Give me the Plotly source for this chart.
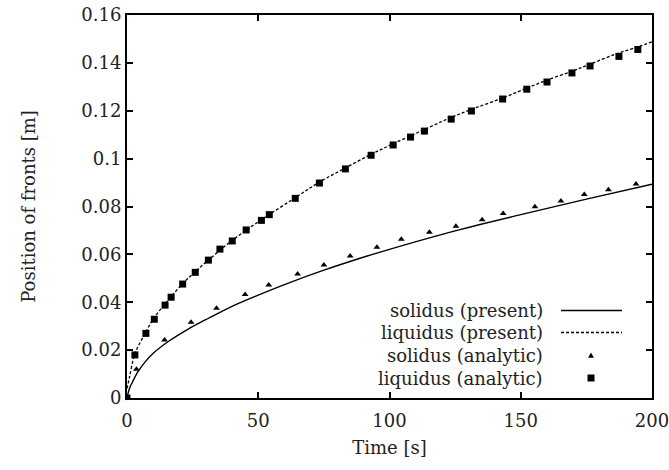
import plotly.graph_objects as go

# ---- data ----
solid_t = [0, 1, 2, 4, 7, 10, 16, 23, 30, 40, 50, 60, 75, 90, 100, 125, 150, 175, 200]
solid_y = [0, 0.0042, 0.0065, 0.0107, 0.0152, 0.0187, 0.0238, 0.0286, 0.0327, 0.0383,
           0.0430, 0.0474, 0.0534, 0.0588, 0.0621, 0.0698, 0.0766, 0.0831, 0.0893]

liq_t = [0, 1, 3, 7, 10, 15, 21, 26, 31, 40, 51, 64, 73, 83, 93, 101, 113, 123, 131,
         143, 152, 160, 170, 176, 187, 195, 200]
liq_y = [0.004, 0.009, 0.0185, 0.0272, 0.0330, 0.0400, 0.0475, 0.0528, 0.0576, 0.0658,
         0.0743, 0.0836, 0.0900, 0.0960, 0.1018, 0.1060, 0.1120, 0.1170, 0.1205, 0.1253,
         0.1293, 0.1328, 0.1367, 0.1393, 0.1440, 0.1468, 0.1488]

sol_an_t = [0, 3.6, 14.3, 24.4, 34.1, 45, 54, 65, 75, 85, 95.2, 104.5, 115.2, 125.3,
            135.3, 143.3, 155.4, 165.3, 174.2, 183.4, 193.9]
sol_an_y = [0, 0.0120, 0.0242, 0.0316, 0.0375, 0.0432, 0.0472, 0.0518, 0.0556, 0.0593,
            0.0630, 0.0663, 0.0692, 0.0718, 0.0745, 0.0771, 0.0799, 0.0823, 0.0850,
            0.0870, 0.0894]

liq_an_t = [0, 3.0, 7.2, 10.4, 14.5, 16.8, 21.2, 26.0, 31.0, 35.4, 40.1, 45.4, 51.2, 54.2,
            64.1, 73.3, 83.2, 93.0, 101.4, 108.0, 113.3, 123.5, 131.2, 143.1, 152.3,
            160.0, 169.5, 176.4, 187.4, 194.6]
liq_an_y = [0, 0.0180, 0.0270, 0.0329, 0.0388, 0.0421, 0.0476, 0.0525, 0.0576, 0.0622,
            0.0656, 0.0702, 0.0742, 0.0766, 0.0834, 0.0898, 0.0957, 0.1014, 0.1057,
            0.1090, 0.1115, 0.1165, 0.1199, 0.1249, 0.1290, 0.1320, 0.1358, 0.1387,
            0.1427, 0.1456]

legend_labels = ["solidus (present)", "liquidus (present)",
                 "solidus (analytic)", "liquidus (analytic)"]

x_ticks = [0, 50, 100, 150, 200]
y_ticks = [0, 0.02, 0.04, 0.06, 0.08, 0.1, 0.12, 0.14, 0.16]
y_ticktext = ["0", "0.02", "0.04", "0.06", "0.08", "0.1", "0.12", "0.14", "0.16"]

FONT = "DejaVu Serif"
TXT = "#222222"
W, H = 669, 470
# plot area in screen pixels: left 127, right 652, top 15, bottom 398
L, R, T, B = 127, W - 652, 15, H - 398

fig = go.Figure()
fig.add_trace(go.Scatter(x=solid_t, y=solid_y, mode="lines", line=dict(color="black", width=1.4),
                         line_shape="spline", showlegend=False))
fig.add_trace(go.Scatter(x=liq_t, y=liq_y, mode="lines",
                         line=dict(color="black", width=1.3, dash="3px,2px"),
                         line_shape="spline", showlegend=False))
fig.add_trace(go.Scatter(x=sol_an_t, y=sol_an_y, mode="markers",
                         marker=dict(symbol="triangle-up", size=6, color="black"), showlegend=False))
fig.add_trace(go.Scatter(x=liq_an_t, y=liq_an_y, mode="markers",
                         marker=dict(symbol="square", size=7, color="black"), showlegend=False))

axis_common = dict(showgrid=False, zeroline=False, showline=True, linecolor="black",
                   linewidth=2, mirror="allticks", ticks="inside", ticklen=6,
                   tickwidth=1.5, tickcolor="black", automargin=False,
                   ticklabeloverflow="allow",
                   tickfont=dict(family=FONT, size=18, color=TXT))

fig.update_xaxes(range=[0, 200], tickvals=x_ticks, ticklabelstandoff=5,
                 title=dict(text="Time [s]", font=dict(family=FONT, size=18, color=TXT), standoff=12),
                 **axis_common)
fig.update_yaxes(range=[0, 0.16], tickvals=y_ticks, ticktext=y_ticktext,
                 title=dict(text="Position of fronts [m]", font=dict(family=FONT, size=18, color=TXT), standoff=41),
                 **axis_common)

# custom legend (text right-aligned, sample to the right); coordinates in screen pixels
pw = W - L - R
ph = H - T - B
def px(x):
    return (x - L) / pw
def py(y):
    return 1 - (y - T) / ph

rows_y = [310.5, 332.5, 355.5, 378]
for lab, yy in zip(legend_labels, rows_y):
    fig.add_annotation(x=px(545), y=py(yy), xref="paper", yref="paper", text=lab,
                       showarrow=False, xanchor="right", yanchor="middle",
                       font=dict(family=FONT, size=18, color=TXT))
fig.add_shape(type="line", xref="paper", yref="paper", x0=px(561), x1=px(622),
              y0=py(rows_y[0]), y1=py(rows_y[0]), line=dict(color="black", width=1.4))
fig.add_shape(type="line", xref="paper", yref="paper", x0=px(561), x1=px(622),
              y0=py(rows_y[1]), y1=py(rows_y[1]), line=dict(color="black", width=1.3, dash="3px,2px"))
cx = 591
ty = rows_y[2]
fig.add_shape(type="path", xref="paper", yref="paper",
              path=f"M {px(cx-2.5)} {py(ty+2)} L {px(cx+2.5)} {py(ty+2)} L {px(cx)} {py(ty-2.5)} Z",
              fillcolor="black", line=dict(color="black", width=0.5))
sy = rows_y[3]
fig.add_shape(type="rect", xref="paper", yref="paper", x0=px(cx-3.5), x1=px(cx+3.5),
              y0=py(sy+3.5), y1=py(sy-3.5), fillcolor="black", line=dict(color="black", width=0))

fig.update_layout(width=W, height=H, margin=dict(l=L, r=R, t=T, b=B, autoexpand=False),
                  paper_bgcolor="white", plot_bgcolor="white", showlegend=False)

fig.write_html("out.html", config={"displayModeBar": False},
               post_script="document.body.style.margin='0';document.body.style.overflow='hidden';")
